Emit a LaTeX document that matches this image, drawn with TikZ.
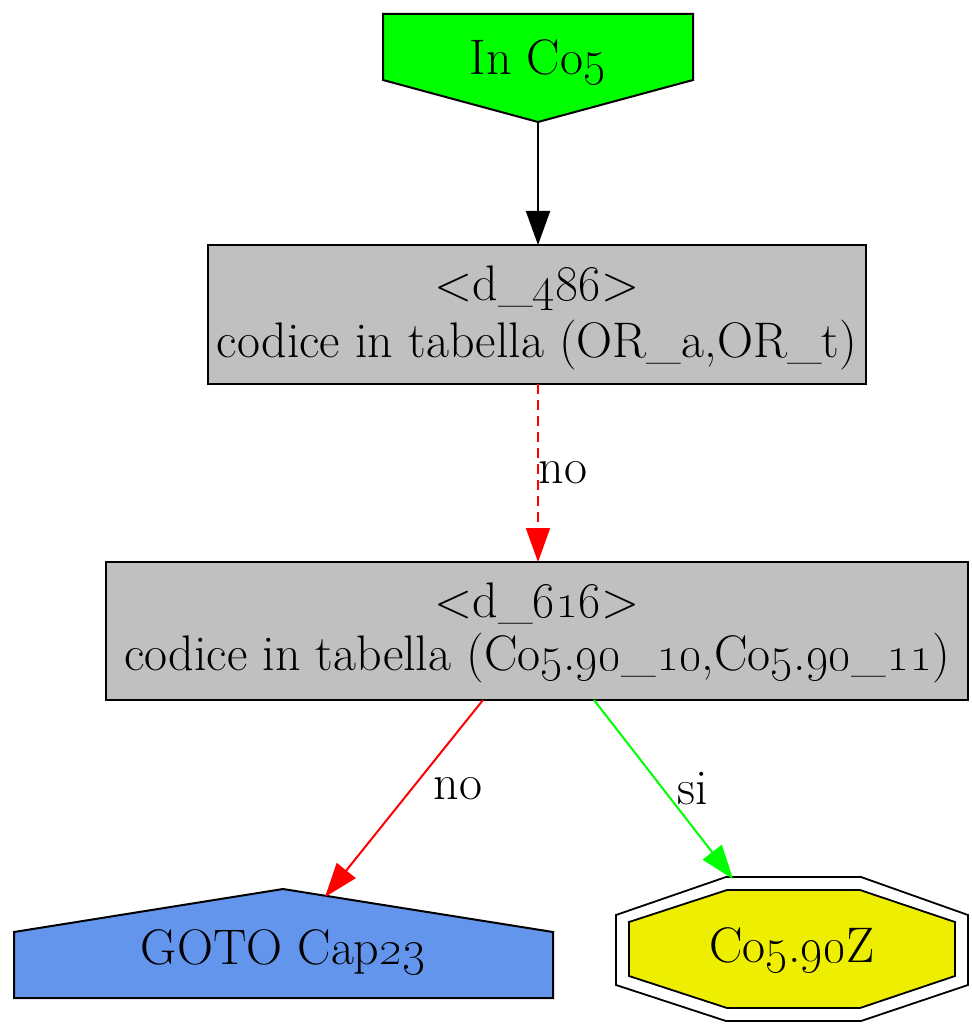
\documentclass[tikz,border=0pt]{standalone}
\usepackage{graphicx}
\usetikzlibrary{arrows.meta}
\definecolor{ingreen}{HTML}{00FF00}
\definecolor{boxgray}{HTML}{C0C0C0}
\definecolor{goblue}{HTML}{6495ED}
\definecolor{endyellow}{HTML}{EEEE00}
\newcommand{\osn}[1]{\scalebox{2.01}{\fontsize{24.88}{28}\selectfont\oldstylenums{#1}}}
\tikzset{
  every node/.style={font=\fontsize{50}{58}\selectfont, inner sep=0pt},
  shapeline/.style={draw=black, line width=2pt, line join=miter},
  box/.style={shapeline, fill=boxgray, rectangle},
  edge/.style={line width=2pt, -{Triangle[length=34pt,width=24pt]}},
  lbl/.style={fill=none}
}
\begin{document}
\begin{tikzpicture}[x=1pt,y=-1pt]
\useasboundingbox (0,0) rectangle (971,1024);
% In Co5
\draw[shapeline, fill=ingreen] (383,14) -- (693,14) -- (693,80) -- (538,122) -- (383,80) -- cycle;
\node (in) at (538,62) {In Co\osn{5}};
\coordinate (inb) at (538,122);
% d_486
\draw[box] (208,245) rectangle (866,384);
\node (d486a) at (537,288) {<d\_\osn{486}>};
\node (d486b) at (537,345) {codice in tabella (OR\_a,OR\_t)};
\coordinate (d486t) at (538,245);
\coordinate (d486bt) at (538,384);
% d_616
\draw[box] (106,562) rectangle (968,700);
\node (d616a) at (537,603) {<d\_\osn{616}>};
\node (d616b) at (537,658) {codice in tabella (Co\osn{5}.\osn{90}\_\osn{10},Co\osn{5}.\osn{90}\_\osn{11})};
\coordinate (d616t) at (538,562);
\coordinate (d616l) at (483,700);
\coordinate (d616r) at (594,700);
% GOTO
\draw[shapeline, fill=goblue] (14,998) -- (553,998) -- (553,932) -- (283,889) -- (14,932) -- cycle;
\node (goto) at (283,952) {GOTO Cap\osn{23}};
\coordinate (gotot) at (325,897);
% Co5.90Z
\draw[shapeline, line width=1.8pt] (726,877) -- (861,877) -- (968,915) -- (968,985) -- (861,1021) -- (726,1021) -- (616,985) -- (616,915) -- cycle;
\draw[shapeline, line width=1.8pt, fill=endyellow] (727,890) -- (860,890) -- (955,922) -- (955,976) -- (860,1008) -- (727,1008) -- (629,976) -- (629,922) -- cycle;
\node (end) at (792,950) {Co\osn{5}.\osn{90}Z};
\coordinate (endt) at (733,879);
% edges
\draw[edge, black] (inb) -- (d486t);
\draw[edge, red, dash pattern=on 10pt off 6pt] (d486bt) -- (d616t);
\node[lbl] (l1) at (563,473) {no};
\draw[edge, red] (d616l) -- (gotot);
\node[lbl] (l2) at (458,789) {no};
\draw[edge, green] (d616r) -- (endt);
\node[lbl] (l3) at (693,789) {si};
\end{tikzpicture}
\end{document}
